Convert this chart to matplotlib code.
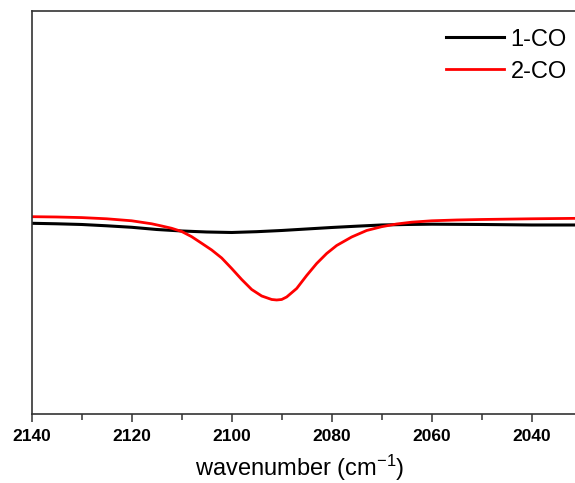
import matplotlib
matplotlib.use("Agg")
import matplotlib.pyplot as plt
from matplotlib.ticker import MultipleLocator

plt.rcParams['font.family'] = ['Liberation Sans', 'DejaVu Sans']
plt.rcParams['mathtext.fontset'] = 'custom'
plt.rcParams['mathtext.rm'] = 'Liberation Sans'
plt.rcParams['mathtext.it'] = 'Liberation Sans'

# 1-CO 光谱 (读图估计, a.u.)
wn_1 = [2140, 2135, 2130, 2125, 2120, 2115, 2110, 2105, 2100, 2095, 2090,
        2085, 2080, 2075, 2070, 2065, 2060, 2050, 2040, 2030]
abs_1 = [-0.0003, -0.0008, -0.0015, -0.0028, -0.0043, -0.0065, -0.0080, -0.0090,
         -0.0095, -0.0087, -0.0075, -0.0060, -0.0045, -0.0032, -0.0020, -0.0015,
         -0.0012, -0.0015, -0.0020, -0.0020]

# 2-CO 光谱
wn_2 = [2140, 2135, 2130, 2125, 2120, 2116, 2114, 2112, 2110, 2108,
        2106, 2104, 2102, 2100, 2098, 2096, 2094, 2092, 2091, 2090,
        2089, 2087, 2085, 2083, 2081, 2079, 2076, 2073, 2070, 2067,
        2064, 2060, 2055, 2050, 2040, 2030]
abs_2 = [0.0063, 0.0060, 0.0054, 0.0042, 0.0022, -0.0008, -0.0030, -0.0053, -0.0085, -0.0137,
         -0.0203, -0.0270, -0.0350, -0.0455, -0.0565, -0.0665, -0.0730, -0.0765, -0.0770, -0.0765,
         -0.0740, -0.0655, -0.0525, -0.0405, -0.0305, -0.0225, -0.0140, -0.0075, -0.0037, -0.0010,
         0.0008, 0.0022, 0.0030, 0.0035, 0.0042, 0.0047]

labels = ["1-CO", "2-CO"]

fig = plt.figure(figsize=(5.75, 4.83), dpi=100)
ax = fig.add_axes([0.0551, 0.1429, 0.9565, 0.8333])

ax.plot(wn_1, abs_1, color='black', lw=2.2, label=labels[0])
ax.plot(wn_2, abs_2, color='red', lw=2.0, label=labels[1])

ax.set_xlim(2140, 2030)
ax.set_ylim(-0.191, 0.2115)

ax.xaxis.set_major_locator(MultipleLocator(20))
ax.xaxis.set_minor_locator(MultipleLocator(10))
ax.tick_params(axis='x', which='major', direction='out', length=6, width=1.1,
               pad=5, labelsize=12.5, color='#333333')
ax.tick_params(axis='x', which='minor', direction='out', length=4, width=1.1,
               color='#333333')
ax.tick_params(axis='y', left=False, labelleft=False)
for lab in ax.get_xticklabels():
    lab.set_fontweight('bold')

for s in ax.spines.values():
    s.set_color('#333333')
    s.set_linewidth(1.2)

fig.text(300 / 575, 0.014, 'wavenumber (cm$^{-1}$)', ha='center', va='baseline',
         fontsize=17)

ax.legend(loc='upper right', bbox_to_anchor=(566.7 / 575, (483 - 28.5) / 483),
          bbox_transform=fig.transFigure, frameon=False, fontsize=17,
          borderpad=0, borderaxespad=0, handlelength=2.46, handletextpad=0.27,
          labelspacing=0.43)

fig.savefig('out.png', dpi=100)
